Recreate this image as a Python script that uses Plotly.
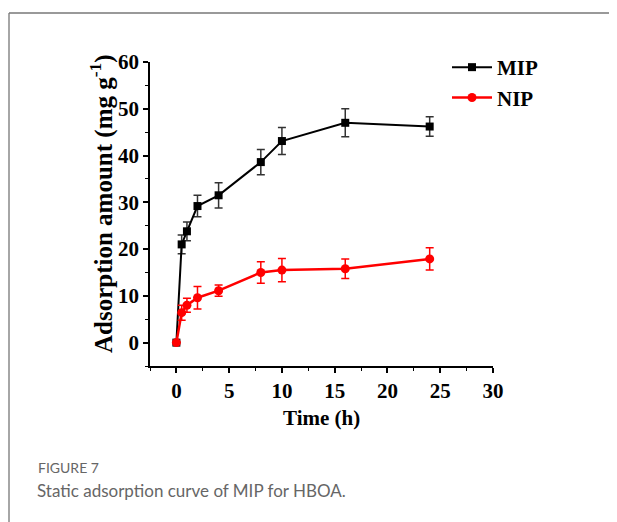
import plotly.graph_objects as go

time_h = [0, 0.5, 1, 2, 4, 8, 10, 16, 24]
mip = [0, 21.0, 23.8, 29.2, 31.5, 38.6, 43.1, 47.0, 46.2]
mip_err = [0, 2.0, 2.0, 2.3, 2.7, 2.7, 2.9, 3.0, 2.1]
nip = [0, 6.4, 8.0, 9.6, 11.1, 15.0, 15.5, 15.8, 17.9]
nip_err = [0, 1.6, 1.5, 2.4, 1.2, 2.3, 2.5, 2.1, 2.4]

# page body adds an 8px offset; work in screenshot pixels and subtract it
OFF = 8
W, H = 617 - OFF, 522 - OFF
L, R, T, B = 150 - OFF, 493 - OFF, 62 - OFF, 366 - OFF
pw, ph = R - L, B - T

def px(x):
    return (x - OFF - L) / pw

def py(y):
    return (B - (y - OFF)) / ph

serif = "Liberation Serif"
sans = "Lato"

fig = go.Figure()
fig.add_trace(go.Scatter(
    x=time_h, y=mip, name="MIP", mode="lines+markers",
    line=dict(color="black", width=2),
    marker=dict(symbol="square", size=8, color="black"),
    error_y=dict(type="data", array=mip_err, visible=True, color="#333333", thickness=1.5, width=4),
))
fig.add_trace(go.Scatter(
    x=time_h, y=nip, name="NIP", mode="lines+markers",
    line=dict(color="#ff0000", width=2.5),
    marker=dict(symbol="circle", size=9, color="#ff0000"),
    error_y=dict(type="data", array=nip_err, visible=True, color="#ff0000", thickness=1.5, width=4),
))

axis_common = dict(
    showline=True, linecolor="black", linewidth=1.5, mirror=False,
    ticks="outside", ticklen=5, tickwidth=1.5, tickcolor="black",
    showgrid=False, zeroline=False,
    tickfont=dict(family=serif, size=21, color="black", weight="bold"),
)
fig.update_xaxes(range=[-2.5, 30], dtick=5, tick0=0,
                 minor=dict(dtick=2.5, tick0=0, ticklen=3, tickwidth=1.2, tickcolor="black", ticks="outside"),
                 **axis_common)
fig.update_yaxes(range=[-5, 60], dtick=10, tick0=0,
                 minor=dict(dtick=5, tick0=0, ticklen=3, tickwidth=1.2, tickcolor="black", ticks="outside"),
                 **axis_common)

fig.add_annotation(text="<b>Time (h)</b>", xref="paper", yref="paper",
                   x=px(321), y=py(418), xanchor="center", yanchor="middle", showarrow=False,
                   font=dict(family=serif, size=21, color="black"))
fig.add_annotation(text="<b>Adsorption amount (mg g<sup>-1</sup>)</b>", xref="paper", yref="paper",
                   x=px(101), y=py(204), xanchor="center", yanchor="middle", showarrow=False, textangle=-90,
                   font=dict(family=serif, size=25, color="black"))

fig.add_annotation(text="FIGURE 7", xref="paper", yref="paper",
                   x=px(36), y=py(467), xanchor="left", yanchor="middle", showarrow=False,
                   font=dict(family=sans, size=14, color="#666666"))
fig.add_annotation(text="Static adsorption curve of MIP for HBOA.", xref="paper", yref="paper",
                   x=px(35), y=py(490), xanchor="left", yanchor="middle", showarrow=False,
                   font=dict(family=sans, size=17, color="#666666"))

# frame
fig.add_shape(type="line", xref="paper", yref="paper",
              x0=px(9), x1=px(9), y0=py(13), y1=py(540),
              line=dict(color="#888888", width=1.5))
fig.add_shape(type="line", xref="paper", yref="paper",
              x0=px(9), x1=px(640), y0=py(13), y1=py(13),
              line=dict(color="#777777", width=1.5))

fig.update_layout(
    width=W, height=H,
    margin=dict(l=L, r=W - R, t=T, b=H - B),
    paper_bgcolor="white", plot_bgcolor="white",
    showlegend=True,
    legend=dict(x=px(447), y=py(47), xanchor="left", yanchor="top",
                font=dict(family=serif, size=21, color="black", weight="bold"),
                bgcolor="rgba(0,0,0,0)", itemwidth=40, tracegroupgap=4),
)

fig.write_html("out.html")
